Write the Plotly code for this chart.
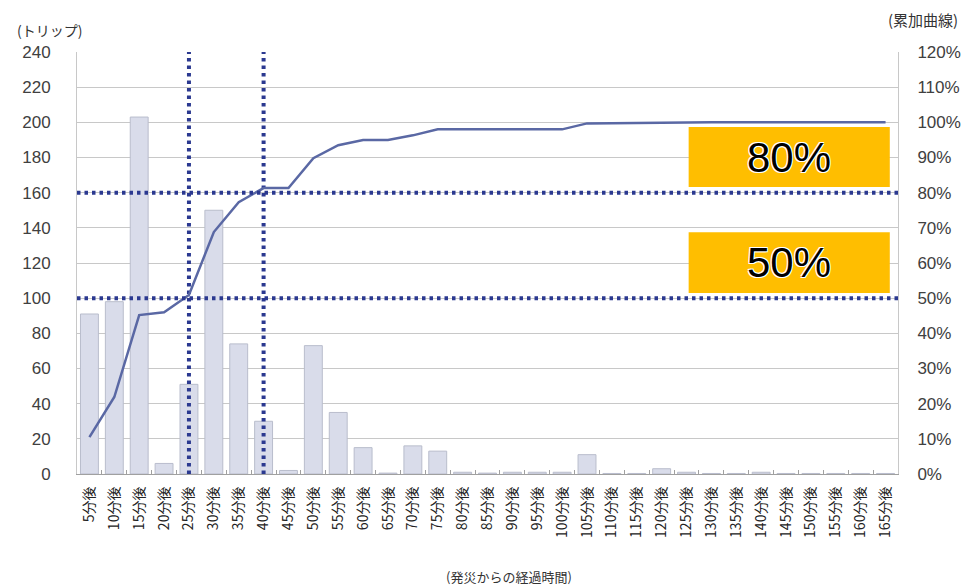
import plotly.graph_objects as go

categories = [f"{m}分後" for m in range(5, 170, 5)]
trips = [91, 98, 203, 6, 51, 150, 74, 30, 2, 73, 35, 15, 0.5, 16, 13, 1, 0.5,
         1, 1, 1, 11, 0.3, 0.3, 3, 1, 0.3, 0.3, 1, 0.3, 0.3, 0.3, 0.3, 0.3]
cumulative = [10.5, 21.9, 45.2, 46.0, 50.9, 68.8, 77.3, 81.3, 81.3, 89.8, 93.5, 95.0,
              95.0, 96.3, 98.0, 98.0, 98.0, 98.0, 98.0, 98.0, 99.7, 99.8, 99.9, 100,
              100, 100, 100, 100, 100, 100, 100, 100, 100]
left_ticks = list(range(0, 241, 20))
right_ticks = list(range(0, 121, 10))
marker_categories = ["25分後", "40分後"]
marker_levels = [160, 100]
box_labels = ["80%", "50%"]

NUM_FONT = "Liberation Sans, Arial, sans-serif"
JP_FONT = "Noto Sans CJK JP, sans-serif"
NAVY = "#2B3990"

fig = go.Figure()
fig.add_trace(go.Bar(x=categories, y=trips, marker=dict(color="#D9DCEA", line=dict(color="#B9BDCC", width=1)),
                     yaxis="y", showlegend=False))
fig.add_trace(go.Scatter(x=categories, y=cumulative, mode="lines", yaxis="y2",
                         line=dict(color="#5A68A4", width=2.5), showlegend=False))
for c in marker_categories:
    fig.add_trace(go.Scatter(x=[c, c], y=[0, 240], mode="lines", yaxis="y",
                             line=dict(color=NAVY, width=4, dash="3.5px,4px"), showlegend=False))
for lv in marker_levels:
    fig.add_shape(type="line", xref="paper", x0=0, x1=1, yref="y", y0=lv, y1=lv,
                  line=dict(color=NAVY, width=4, dash="3.5px,4px"), layer="above")

box_pos = [(0.680, 0.822), (0.429, 0.573)]
for lbl, (y0, y1) in zip(box_labels, box_pos):
    fig.add_shape(type="rect", xref="paper", yref="paper", x0=0.745, x1=0.990, y0=y0, y1=y1,
                  fillcolor="#FFBE00", line=dict(width=0), layer="above")
    fig.add_annotation(xref="paper", yref="paper", x=(0.745 + 0.990) / 2, y=(y0 + y1) / 2,
                       text=lbl, showarrow=False, xanchor="center", yanchor="middle",
                       font=dict(family=NUM_FONT, size=42, color="#000",
                                 shadow="1px 1px 0 #fff, -1px -1px 0 #fff, 1px -1px 0 #fff, -1px 1px 0 #fff"))

fig.add_annotation(xref="paper", yref="paper", x=-0.0755, y=1.052, xanchor="left", yanchor="middle",
                   text="(トリップ)", showarrow=False, font=dict(family=JP_FONT, size=14, color="#333"))
fig.add_annotation(xref="paper", yref="paper", x=1.075, y=1.076, xanchor="right", yanchor="middle",
                   text="(累加曲線)", showarrow=False, font=dict(family=JP_FONT, size=15, color="#333"))
fig.add_annotation(xref="paper", yref="paper", x=0.526, y=-0.243, xanchor="center", yanchor="middle",
                   text="(発災からの経過時間)", showarrow=False, font=dict(family=JP_FONT, size=13, color="#333"))

fig.update_layout(
    width=964, height=585,
    margin=dict(l=77, r=66, t=52, b=111, autoexpand=False),
    paper_bgcolor="white", plot_bgcolor="white",
    bargap=0.28,
    xaxis=dict(type="category", tickangle=-90, tickfont=dict(family=JP_FONT, size=14, color="#222"),
               showline=True, linecolor="#A0A0A0", linewidth=1, mirror=False,
               ticks="inside", ticklen=4, tickcolor="#A0A0A0", tickson="boundaries",
               ticklabelstandoff=6, showgrid=False, automargin=False),
    yaxis=dict(range=[0, 240], tickvals=left_ticks, tickfont=dict(family=NUM_FONT, size=17, color="#404040"),
               showgrid=True, gridcolor="#C8C8C8", gridwidth=1, zeroline=False,
               showline=True, linecolor="#C8C8C8", ticklabelstandoff=22, automargin=False),
    yaxis2=dict(range=[0, 120], tickvals=right_ticks, ticktext=[f"{v}%" for v in right_ticks],
                overlaying="y", side="right", showgrid=False, zeroline=False,
                tickfont=dict(family=NUM_FONT, size=17, color="#404040"),
                showline=True, linecolor="#C8C8C8", ticklabelstandoff=15, automargin=False),
)

fig.write_html("out.html")
